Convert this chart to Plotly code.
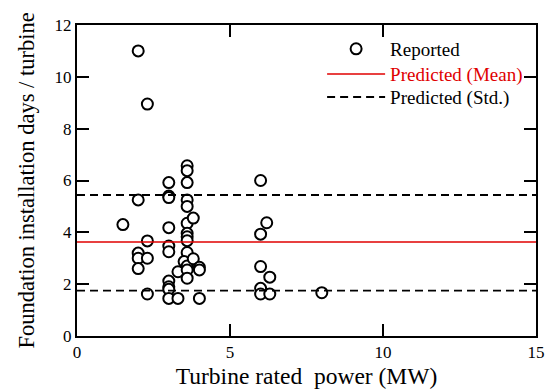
import plotly.graph_objects as go

# Reported data: turbine rated power (MW) vs foundation installation days / turbine
power_mw = [2.0, 2.3, 1.5, 2.0, 2.3, 2.0, 2.0, 2.0, 2.3, 2.3,
            3.0, 3.0, 3.0, 3.0, 3.0, 3.0, 3.0, 3.0, 3.0, 3.0,
            3.3, 3.3,
            3.6, 3.6, 3.6, 3.6, 3.6, 3.6, 3.6, 3.6, 3.6, 3.6, 3.5, 3.6, 3.6, 3.6,
            3.8, 3.8, 4.0, 4.0, 4.0,
            6.0, 6.0, 6.0, 6.0, 6.0, 6.2, 6.3, 6.3, 8.0]
days = [11.0, 8.95, 4.3, 5.25, 3.67, 3.2, 3.0, 2.6, 3.0, 1.62,
        5.92, 5.4, 5.34, 4.18, 3.47, 3.25, 2.12, 1.9, 1.8, 1.45,
        1.45, 2.48,
        6.57, 6.38, 5.92, 5.25, 5.0, 4.35, 3.96, 3.83, 3.68, 3.22, 2.87, 2.7, 2.55, 2.23,
        4.55, 2.98, 2.65, 2.55, 1.45,
        6.0, 3.93, 2.68, 1.84, 1.62, 4.37, 2.27, 1.62, 1.67]

x_range = [0, 15]
mean_pred = [3.63, 3.63]
std_upper = [5.44, 5.44]
std_lower = [1.75, 1.75]

x_ticks = [0, 5, 10, 15]
y_ticks = [0, 2, 4, 6, 8, 10, 12]

font_family = "Liberation Serif, Times New Roman, serif"

fig = go.Figure()
fig.add_trace(go.Scatter(
    x=power_mw, y=days, mode="markers", name="Reported", legend="legend",
    marker=dict(symbol="circle", size=11, color="white",
                line=dict(color="black", width=2)),
))
fig.add_trace(go.Scatter(
    x=x_range, y=mean_pred, mode="lines", legend="legend2",
    name="<span style='color:#e00000'>Predicted (Mean)</span>",
    line=dict(color="#e00000", width=1.5),
))
fig.add_trace(go.Scatter(
    x=x_range, y=std_upper, mode="lines", name="Predicted (Std.)",
    legend="legend3",
    line=dict(color="black", width=1.8, dash="8px,5px"),
))
fig.add_trace(go.Scatter(
    x=x_range, y=std_lower, mode="lines", name="Predicted (Std.)",
    showlegend=False,
    line=dict(color="black", width=1.8, dash="8px,5px"),
))

axis_common = dict(
    showgrid=False, zeroline=False, showline=True, linecolor="black",
    linewidth=2, mirror="ticks", ticks="inside", ticklen=12, tickwidth=1.5,
    tickcolor="black", automargin=False,
    tickfont=dict(family=font_family, size=17, color="black"),
)

legend_common = dict(
    x=0.534, xanchor="left", yanchor="middle",
    bgcolor="rgba(0,0,0,0)", borderwidth=0,
    font=dict(family=font_family, size=19, color="black"),
    itemwidth=58,
)

fig.update_layout(
    width=546, height=392,
    margin=dict(l=77, r=10, t=25, b=56),
    paper_bgcolor="white", plot_bgcolor="white",
    font=dict(family=font_family, color="black"),
    xaxis=dict(range=x_range, tickvals=x_ticks, **axis_common,
               title=dict(text="Turbine rated  power (MW)",
                          font=dict(family=font_family, size=23.5), standoff=6)),
    yaxis=dict(range=[0, 12], tickvals=y_ticks, **axis_common,
               title=dict(text="Foundation installation days / turbine",
                          font=dict(family=font_family, size=22.5), standoff=14)),
    legend=dict(y=0.923, **legend_common),
    legend2=dict(y=0.842, **legend_common),
    legend3=dict(y=0.768, **legend_common),
    showlegend=True,
)

fig.write_html("out.html")
